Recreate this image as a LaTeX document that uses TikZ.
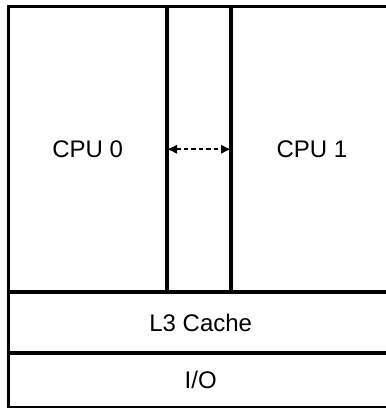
\documentclass[tikz,border=0pt]{standalone}
\usepackage{fontspec}
\setmainfont{Liberation Sans}
\usetikzlibrary{arrows.meta, positioning}

\begin{document}
\begin{tikzpicture}[x=1pt, y=1pt,
    bloque/.style={draw=black, line width=3.2pt, rectangle, inner sep=0pt,
        outer sep=0pt, font=\fontsize{24}{28}\selectfont},
    enlace/.style={dashed, dash pattern=on 4.5pt off 3pt, line width=1.7pt,
        {Latex[length=10pt, width=9.5pt]}-{Latex[length=10pt, width=9.5pt]}}]
            % Marco de la imagen (recorta el borde derecho e inferior)
            \useasboundingbox (0,0) rectangle (386,408);
            \clip (0,0) rectangle (386,408);

            % Bloques del procesador
            \node[bloque, minimum width=384.5pt, minimum height=54.5pt, anchor=south west] (io) at (8.5,0.5) {I/O};
            \node[bloque, minimum width=384.5pt, minimum height=61pt, above=0pt of io.north west, anchor=south west] (cache) {L3 Cache};
            \node[bloque, minimum width=158.5pt, minimum height=285.5pt, above=0pt of cache.north west, anchor=south west] (cpu0) {CPU 0};
            \node[bloque, minimum width=64pt, minimum height=285.5pt, right=0pt of cpu0.south east, anchor=south west] (puente) {};
            \node[bloque, minimum width=162pt, minimum height=285.5pt, right=0pt of puente.south east, anchor=south west] (cpu1) {CPU 1};

            % Enlace entre los dos CPU
            \draw[enlace] (cpu0.east) -- (cpu1.west);
        \end{tikzpicture}
\end{document}
